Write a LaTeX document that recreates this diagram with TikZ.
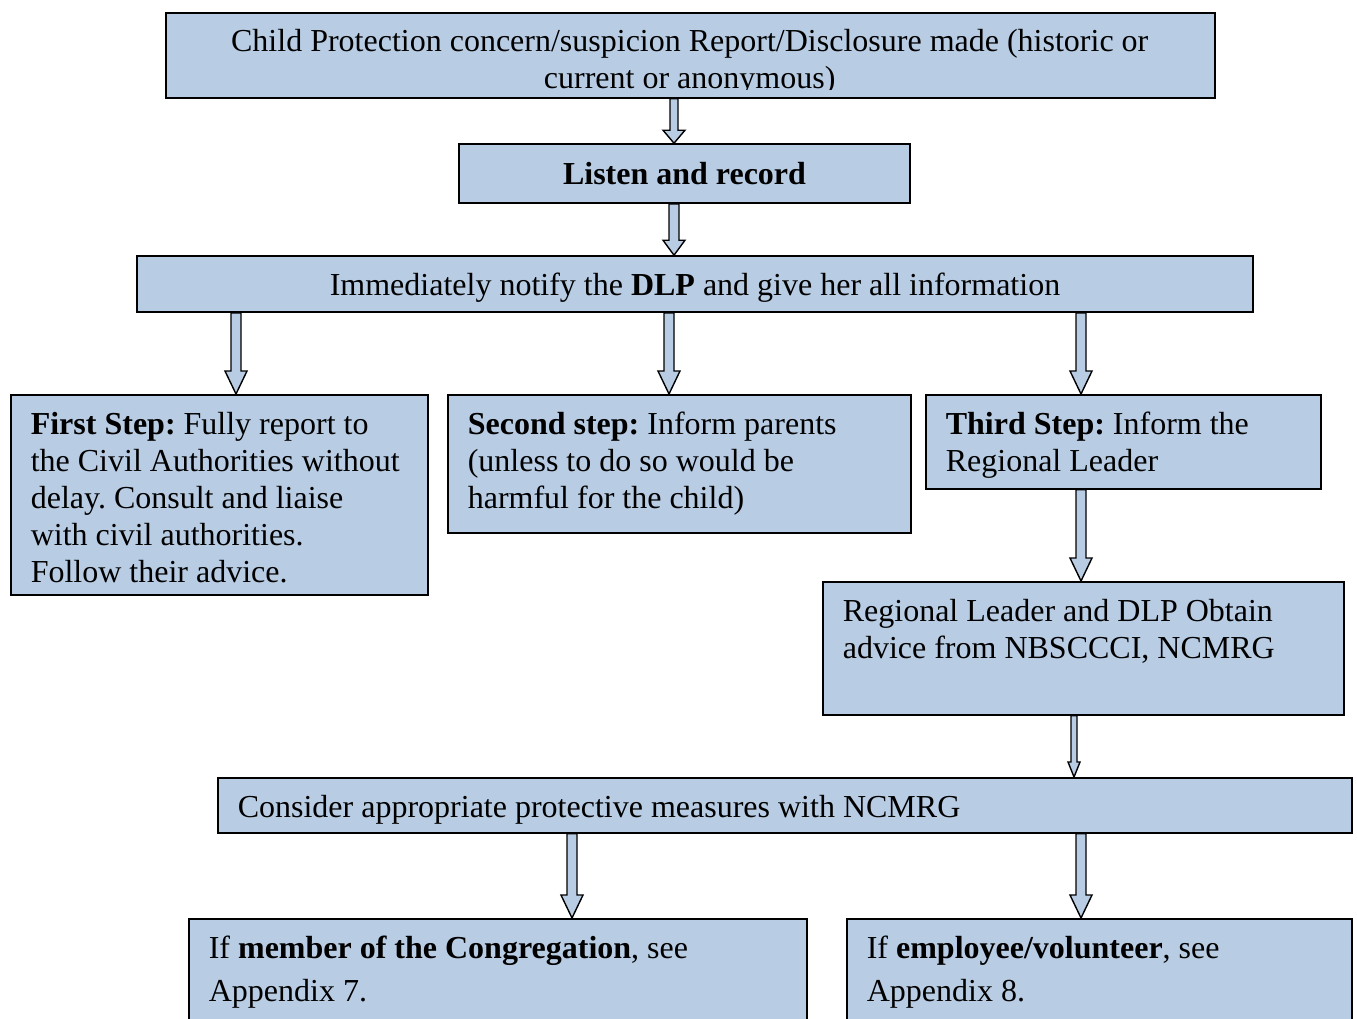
\documentclass[tikz,border=0pt]{standalone}
\usepackage{fontspec}
\setmainfont{Liberation Serif}
\usepackage{tikz}
\usetikzlibrary{calc}

\definecolor{boxblue}{HTML}{B8CCE4}

\newcommand\plainspacing{\frenchspacing\spaceskip 0pt\relax\xspaceskip 0pt\relax}
\newcommand\rigidspacing{\frenchspacing\spaceskip .25em\relax\xspaceskip .25em\relax}

\tikzset{
	flowbox/.style={draw, fill=boxblue, line width=1.6pt, font=\fontsize{32}{37}\selectfont,
		execute at begin node=\plainspacing},
	stepbox/.style={flowbox, anchor=north west, align=left, inner xsep=20pt, inner ysep=14pt, text height=26pt},
	arrowbody/.style={draw, fill=boxblue, line width=1.4pt, line join=miter},
}

% #1 = shaft half width/head half width/head length, #2 = x, #3 = upper node, #4 = lower node
\newcommand\blockarrow[4][5/11/23]{%
	\foreach \sw/\hw/\hl in {#1}{
		\path[arrowbody] let \p1=(#3.south), \p2=(#4.north) in
			(#2pt-\sw pt,\y1) -- (#2pt+\sw pt,\y1) -- (#2pt+\sw pt,\y2+\hl pt) -- (#2pt+\hw pt,\y2+\hl pt)
			-- (#2pt,\y2) -- (#2pt-\hw pt,\y2+\hl pt) -- (#2pt-\sw pt,\y2+\hl pt) -- cycle;
	}}

\begin{document}
\begin{tikzpicture}[x=1pt, y=-1pt]
	\useasboundingbox (0,0) rectangle (1357,1018);
	\clip (0,0) rectangle (1357,1018);

	\node[flowbox, anchor=north west, minimum width=1049pt, minimum height=85pt, inner sep=0pt] (report) at (165,12) {};
	\begin{scope}
		\clip (report.north west) rectangle ([yshift=9pt]report.south east);
		\node[anchor=north west, align=center, text width=1009pt, inner xsep=20pt, inner ysep=12pt, text height=27pt,
			font=\fontsize{32}{37}\selectfont, execute at begin node=\rigidspacing] (reporttext) at (report.north west)
			{Child Protection concern/suspicion Report/Disclosure made (historic or\\ current or anonymous)};
	\end{scope}

	\node[flowbox, minimum width=451pt, minimum height=59pt, inner sep=0pt] (listen) at (684.5,173.5) {\textbf{Listen and record}};
	\node[flowbox, minimum width=1116pt, minimum height=56pt, inner sep=0pt, text depth=0pt] (dlp) at (695,284) {Immediately notify the \textbf{DLP} and give her all information};

	\node[stepbox, text width=377pt, text depth=146pt] (first) at (10,394)
		{\textbf{First Step:} Fully report to\\ the Civil Authorities without\\ delay. Consult and liaise\\ with civil authorities.\\ Follow their advice.};
	\node[stepbox, text width=423pt, text depth=84pt] (second) at (447,394)
		{\textbf{Second step:} Inform parents\\ (unless to do so would be\\ harmful for the child)};
	\node[stepbox, text width=355pt, text depth=40pt] (third) at (925,394)
		{\textbf{Third Step:} Inform the\\ Regional Leader};
	\node[stepbox, text width=481pt, text depth=79pt] (advice) at (822,581)
		{Regional Leader and DLP Obtain\\ advice from NBSCCCI, NCMRG};
	\node[stepbox, text width=1094pt, inner ysep=12pt, text height=28pt, text depth=3pt] (measures) at (217,777)
		{Consider appropriate protective measures with NCMRG};
	\node[stepbox, text width=578pt, text depth=66pt] (member) at (188,918)
		{If \textbf{member of the Congregation}, see\\[6pt] Appendix 7.};
	\node[stepbox, text width=465pt, text depth=66pt] (employee) at (846,918)
		{If \textbf{employee/volunteer}, see\\[6pt] Appendix 8.};

	\blockarrow[4/11/13]{674}{report}{listen}
	\blockarrow[5/11/15]{674}{listen}{dlp}
	\blockarrow{236}{dlp}{first}
	\blockarrow{669}{dlp}{second}
	\blockarrow{1081}{dlp}{third}
	\blockarrow{1081}{third}{advice}
	\blockarrow[3/6/15]{1074}{advice}{measures}
	\blockarrow{572}{measures}{member}
	\blockarrow{1081}{measures}{employee}
\end{tikzpicture}
\end{document}
